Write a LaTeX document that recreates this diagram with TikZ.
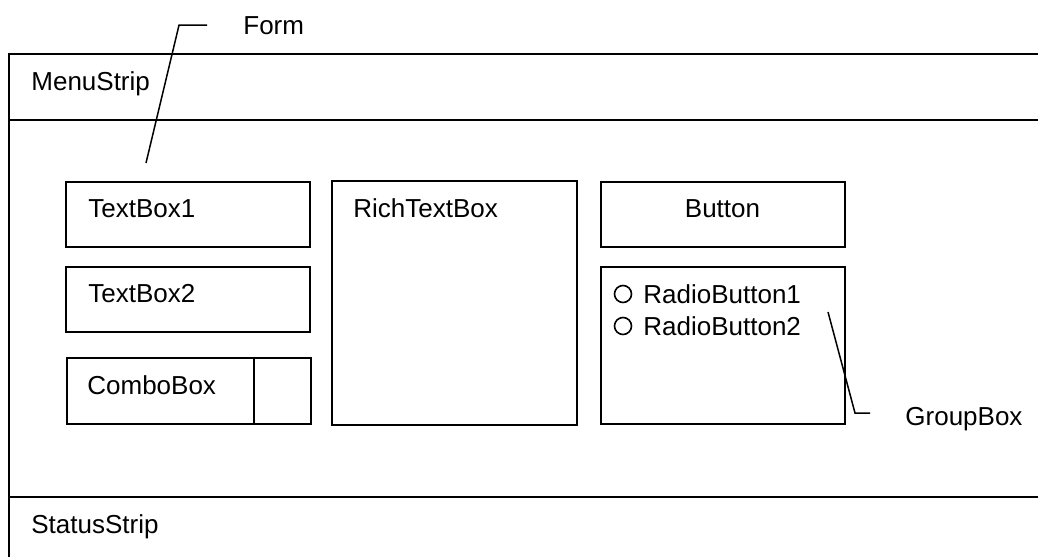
\documentclass[tikz,border=0pt]{standalone}
\usepackage{fontspec}
\setmainfont{Liberation Sans}
\begin{document}
\begin{tikzpicture}[x=0.5pt,y=-0.5pt]
		  \tikzstyle{every node}=[inner sep=0pt,font=\fontsize{13}{15}\selectfont];
		  \tikzstyle{ctrl}=[draw,line width=1pt,rectangle,minimum width=122pt,minimum height=32.5pt];
		  \tikzstyle{lbl}=[anchor=base west];
		  \tikzstyle{radio}=[draw,circle,line width=0.8pt,minimum size=8.5pt];
			\useasboundingbox (0,0) rectangle (1038,557);

			% form with menu and status strip
			\path[draw,line width=1.2pt] (9,557) -- (9,54) -- (1038,54);
			\path[draw,line width=1.2pt] (9,120) -- (1038,120);
			\path[draw,line width=1.2pt] (9,497) -- (1038,497);
			\path (31,90)  node[lbl] (menu) {MenuStrip};
			\path (31,533) node[lbl] (status) {StatusStrip};
			\path (243,34) node[lbl] (form) {Form};

			% controls
			\path (188,214)     node[ctrl] (tb1) {};
			\path (188,299.5)   node[ctrl] (tb2) {};
			\path (188.5,391)   node[ctrl,minimum height=33.25pt] (cb) {};
			\path (454.5,302.75) node[ctrl,minimum width=122.5pt,minimum height=121.75pt] (rtb) {};
			\path (722.5,214)   node[ctrl] (btn) {};
			\path (722.5,345.5) node[ctrl,minimum height=78.5pt] (gb) {};
			\path[draw,line width=1pt] ([xshift=-29pt]cb.north east) -- ([xshift=-29pt]cb.south east);

			\path (88,217)    node[lbl] (tb1txt) {TextBox1};
			\path (88,302)    node[lbl] (tb2txt) {TextBox2};
			\path (87,394)    node[lbl] (cbtxt) {ComboBox};
			\path (353,217)   node[lbl] (rtbtxt) {RichTextBox};
			\path (722.5,217) node[anchor=base] (btntxt) {Button};

			% radio buttons
			\path (623,294) node[radio] (r1) {};
			\path (623,326) node[radio] (r2) {};
			\path (643,303) node[lbl] (r1txt) {RadioButton1};
			\path (643,335) node[lbl] (r2txt) {RadioButton2};

			% callouts
			\path (905,425) node[lbl] (gbtxt) {GroupBox};
			\coordinate (formtip) at (146,163);
			\coordinate (gbtip) at (828,312);
			\coordinate (gbend) at (870,413);
			\path[draw,line width=0.75pt] ([xshift=-18pt]form.west) -- ++(-28,0) -- (formtip);
			\path[draw,line width=0.75pt] (gbtip) -- (855,413) -- (gbend);
		\end{tikzpicture}
\end{document}
